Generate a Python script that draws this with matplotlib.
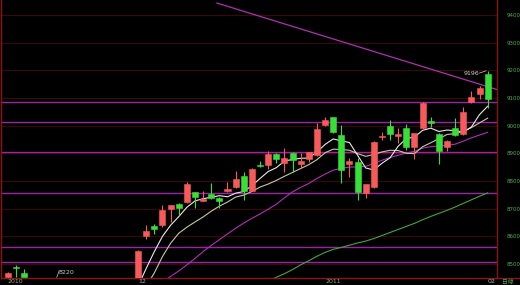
import numpy as np
import matplotlib
matplotlib.use('Agg')
import matplotlib.pyplot as plt
from matplotlib.lines import Line2D
from matplotlib.transforms import blended_transform_factory

nan = np.nan

# daily candles, Nov 2010 -> Feb 2011 (days that sit below the visible range are left empty)
opens = [8452, 8490, 8466] + [nan] * 13 + [
    8420, 8600, 8637, 8640, 8699, 8718, 8724, 8760, 8728, 8752,
    8740, 8764, 8778, 8817, 8765, 8857, 8857, 8898, 8866, 8900,
    8861, 8879, 8894, 9002, 9030, 8966, 8863, 8869, 8756, 8780,
    8958, 8999, 8964, 8993, 8922, 8990, 9017, 8970, 8922, 8993,
    8970, 9085, 9113, 9186]
highs = [8472, 8497, 8481] + [nan] * 13 + [
    8550, 8641, 8646, 8713, 8713, 8721, 8798, 8762, 8764, 8792,
    8742, 8795, 8837, 8834, 8847, 8871, 8909, 8900, 8918, 8903,
    8900, 8906, 9009, 9032, 9032, 9004, 8882, 8882, 8790, 8944,
    8978, 9021, 8993, 9006, 8975, 9085, 9030, 8972, 8947, 9029,
    9069, 9125, 9143, 9196]
lows = [8448, 8454, 8452] + [nan] * 13 + [
    8410, 8592, 8609, 8633, 8653, 8676, 8722, 8701, 8726, 8735,
    8704, 8762, 8776, 8731, 8763, 8850, 8845, 8866, 8834, 8834,
    8846, 8870, 8892, 9000, 8975, 8792, 8816, 8731, 8738, 8775,
    8948, 8948, 8938, 8912, 8878, 8988, 8996, 8860, 8909, 8964,
    8968, 9082, 9095, 9063]
closes = [8469, 8486, 8454] + [nan] * 13 + [
    8547, 8619, 8628, 8695, 8712, 8701, 8789, 8743, 8736, 8738,
    8727, 8772, 8807, 8765, 8845, 8853, 8898, 8879, 8884, 8876,
    8872, 8904, 8987, 9019, 8977, 8840, 8871, 8759, 8788, 8942,
    8962, 8969, 8970, 8922, 8972, 9083, 9009, 8909, 8945, 8966,
    9051, 9103, 9135, 9096]

ma5 = [nan] * 16 + [
    8420, 8484, 8545, 8600, 8640, 8671, 8705, 8728, 8736, 8741,
    8747, 8743, 8756, 8762, 8783, 8809, 8834, 8848, 8872, 8878,
    8882, 8883, 8905, 8932, 8952, 8945, 8939, 8893, 8847, 8840,
    8864, 8884, 8926, 8953, 8959, 8983, 8991, 8979, 8984, 8982,
    8976, 8995, 9040, 9070]
ma10 = [nan] * 17 + [
    8420, 8468, 8527, 8575, 8611, 8633, 8652, 8670, 8691, 8709,
    8724, 8742, 8749, 8762, 8778, 8789, 8802, 8817, 8831, 8845,
    8859, 8877, 8902, 8915, 8914, 8911, 8899, 8889, 8896, 8905,
    8911, 8910, 8900, 8899, 8924, 8938, 8953, 8968, 8971, 8980,
    8993, 9010, 9027]
ma20 = [nan] * 19 + [
    8435, 8455, 8475, 8497, 8520, 8545, 8567, 8588, 8609, 8629,
    8648, 8665, 8681, 8698, 8716, 8739, 8761, 8777, 8791, 8809,
    8825, 8839, 8846, 8850, 8851, 8853, 8863, 8875, 8885, 8893,
    8901, 8907, 8919, 8924, 8926, 8929, 8933, 8944, 8956, 8966,
    8976]
ma60 = [nan] * 32 + [
    8440, 8452, 8465, 8480, 8497, 8512, 8528, 8542, 8553, 8560,
    8568, 8576, 8583, 8592, 8603, 8614, 8625, 8636, 8647, 8660,
    8672, 8683, 8694, 8706, 8719, 8732, 8745, 8757]

levels = [9084, 9012, 8904, 8756, 8561, 8507]
trend_x = [25.7, 60.2]
trend_y = [9443, 9130]

date_idx = [0, 16, 39, 59]
date_lbl = ['2010', '12', '2011', '02']
low_idx = 6
low_val = 8220

RED = '#f75a5a'
GREEN = '#36e036'
AXRED = '#8c1414'

fig = plt.figure(figsize=(5.2, 2.85), dpi=100, facecolor='black')
ax = fig.add_axes([1 / 520, 7 / 285, 496 / 520, 278 / 285])
ax.set_facecolor('black')

o = np.array(opens, float)
h = np.array(highs, float)
l = np.array(lows, float)
c = np.array(closes, float)
x = np.arange(len(c))
cols = np.where(c >= o, RED, GREEN)

for v in range(8500, 9401, 100):
    ax.axhline(v, color='#3a0808', lw=0.8, zorder=0)
for v in levels:
    ax.axhline(v, color='#a020a8', lw=1.0, zorder=1)
ax.plot(trend_x, trend_y, color='#b030b0', lw=0.9, zorder=1)

ax.plot(x, ma60, color='#3fa83f', lw=0.8, zorder=2)
ax.plot(x, ma20, color='#b030b8', lw=0.8, zorder=2)
ax.plot(x, ma10, color='#c8c8a0', lw=0.8, zorder=2)
ax.plot(x, ma5, color='#e8e8e8', lw=0.8, zorder=2)

ax.vlines(x, l, h, colors=cols, lw=0.8, zorder=3)
ax.bar(x, np.maximum(np.abs(c - o), 3), bottom=np.minimum(o, c), width=0.74,
       color=cols, edgecolor=cols, lw=0.4, zorder=4)

# high / low marks
hi = int(np.nanargmax(h))
ax.text(hi - 1.05, h[hi] - 8, f'{h[hi]:.0f}', color='#d0d0d0', fontsize=4.5,
        ha='right', va='center', zorder=5)
ax.plot([hi - 1.0, hi - 0.2], [h[hi] - 6, h[hi] + 2], color='#d0d0d0', lw=0.5, zorder=5)
ax.text(low_idx + 0.25, 8468, str(low_val), color='#c8c8c8', fontsize=4.5,
        ha='left', va='center', zorder=5)
ax.plot([low_idx, low_idx + 0.3], [8452, 8476], color='#c8c8c8', lw=0.5, zorder=5)

ax.set_xlim(-0.86, 60.15)
ax.set_ylim(8449.5, 9454)

ax.yaxis.tick_right()
ax.set_yticks(range(8500, 9401, 100))
ax.tick_params(axis='y', length=0, pad=7, labelsize=4, labelcolor='#4caf50')
ax.set_xticks([])

for s in ['left', 'bottom', 'right']:
    ax.spines[s].set_color(AXRED)
    ax.spines[s].set_linewidth(1.0)
ax.spines['top'].set_visible(False)
fig.add_artist(Line2D([497 / 520, 1], [7 / 285, 7 / 285], color=AXRED, lw=1.0,
                      transform=fig.transFigure))

tr = blended_transform_factory(ax.transData, ax.transAxes)
for i, t in zip(date_idx, date_lbl):
    col = '#9aa878' if len(t) == 4 else '#b0b0b0'
    ax.text(i, -0.005, t, transform=tr, color=col, fontsize=4.5, ha='left', va='top')

fig.text(502 / 520, 0.3 / 285, '日線', color='#4caf50', fontsize=4.2, va='bottom',
         family=['Noto Sans CJK TC', 'DejaVu Sans'])

fig.savefig('out.png', facecolor='black')
